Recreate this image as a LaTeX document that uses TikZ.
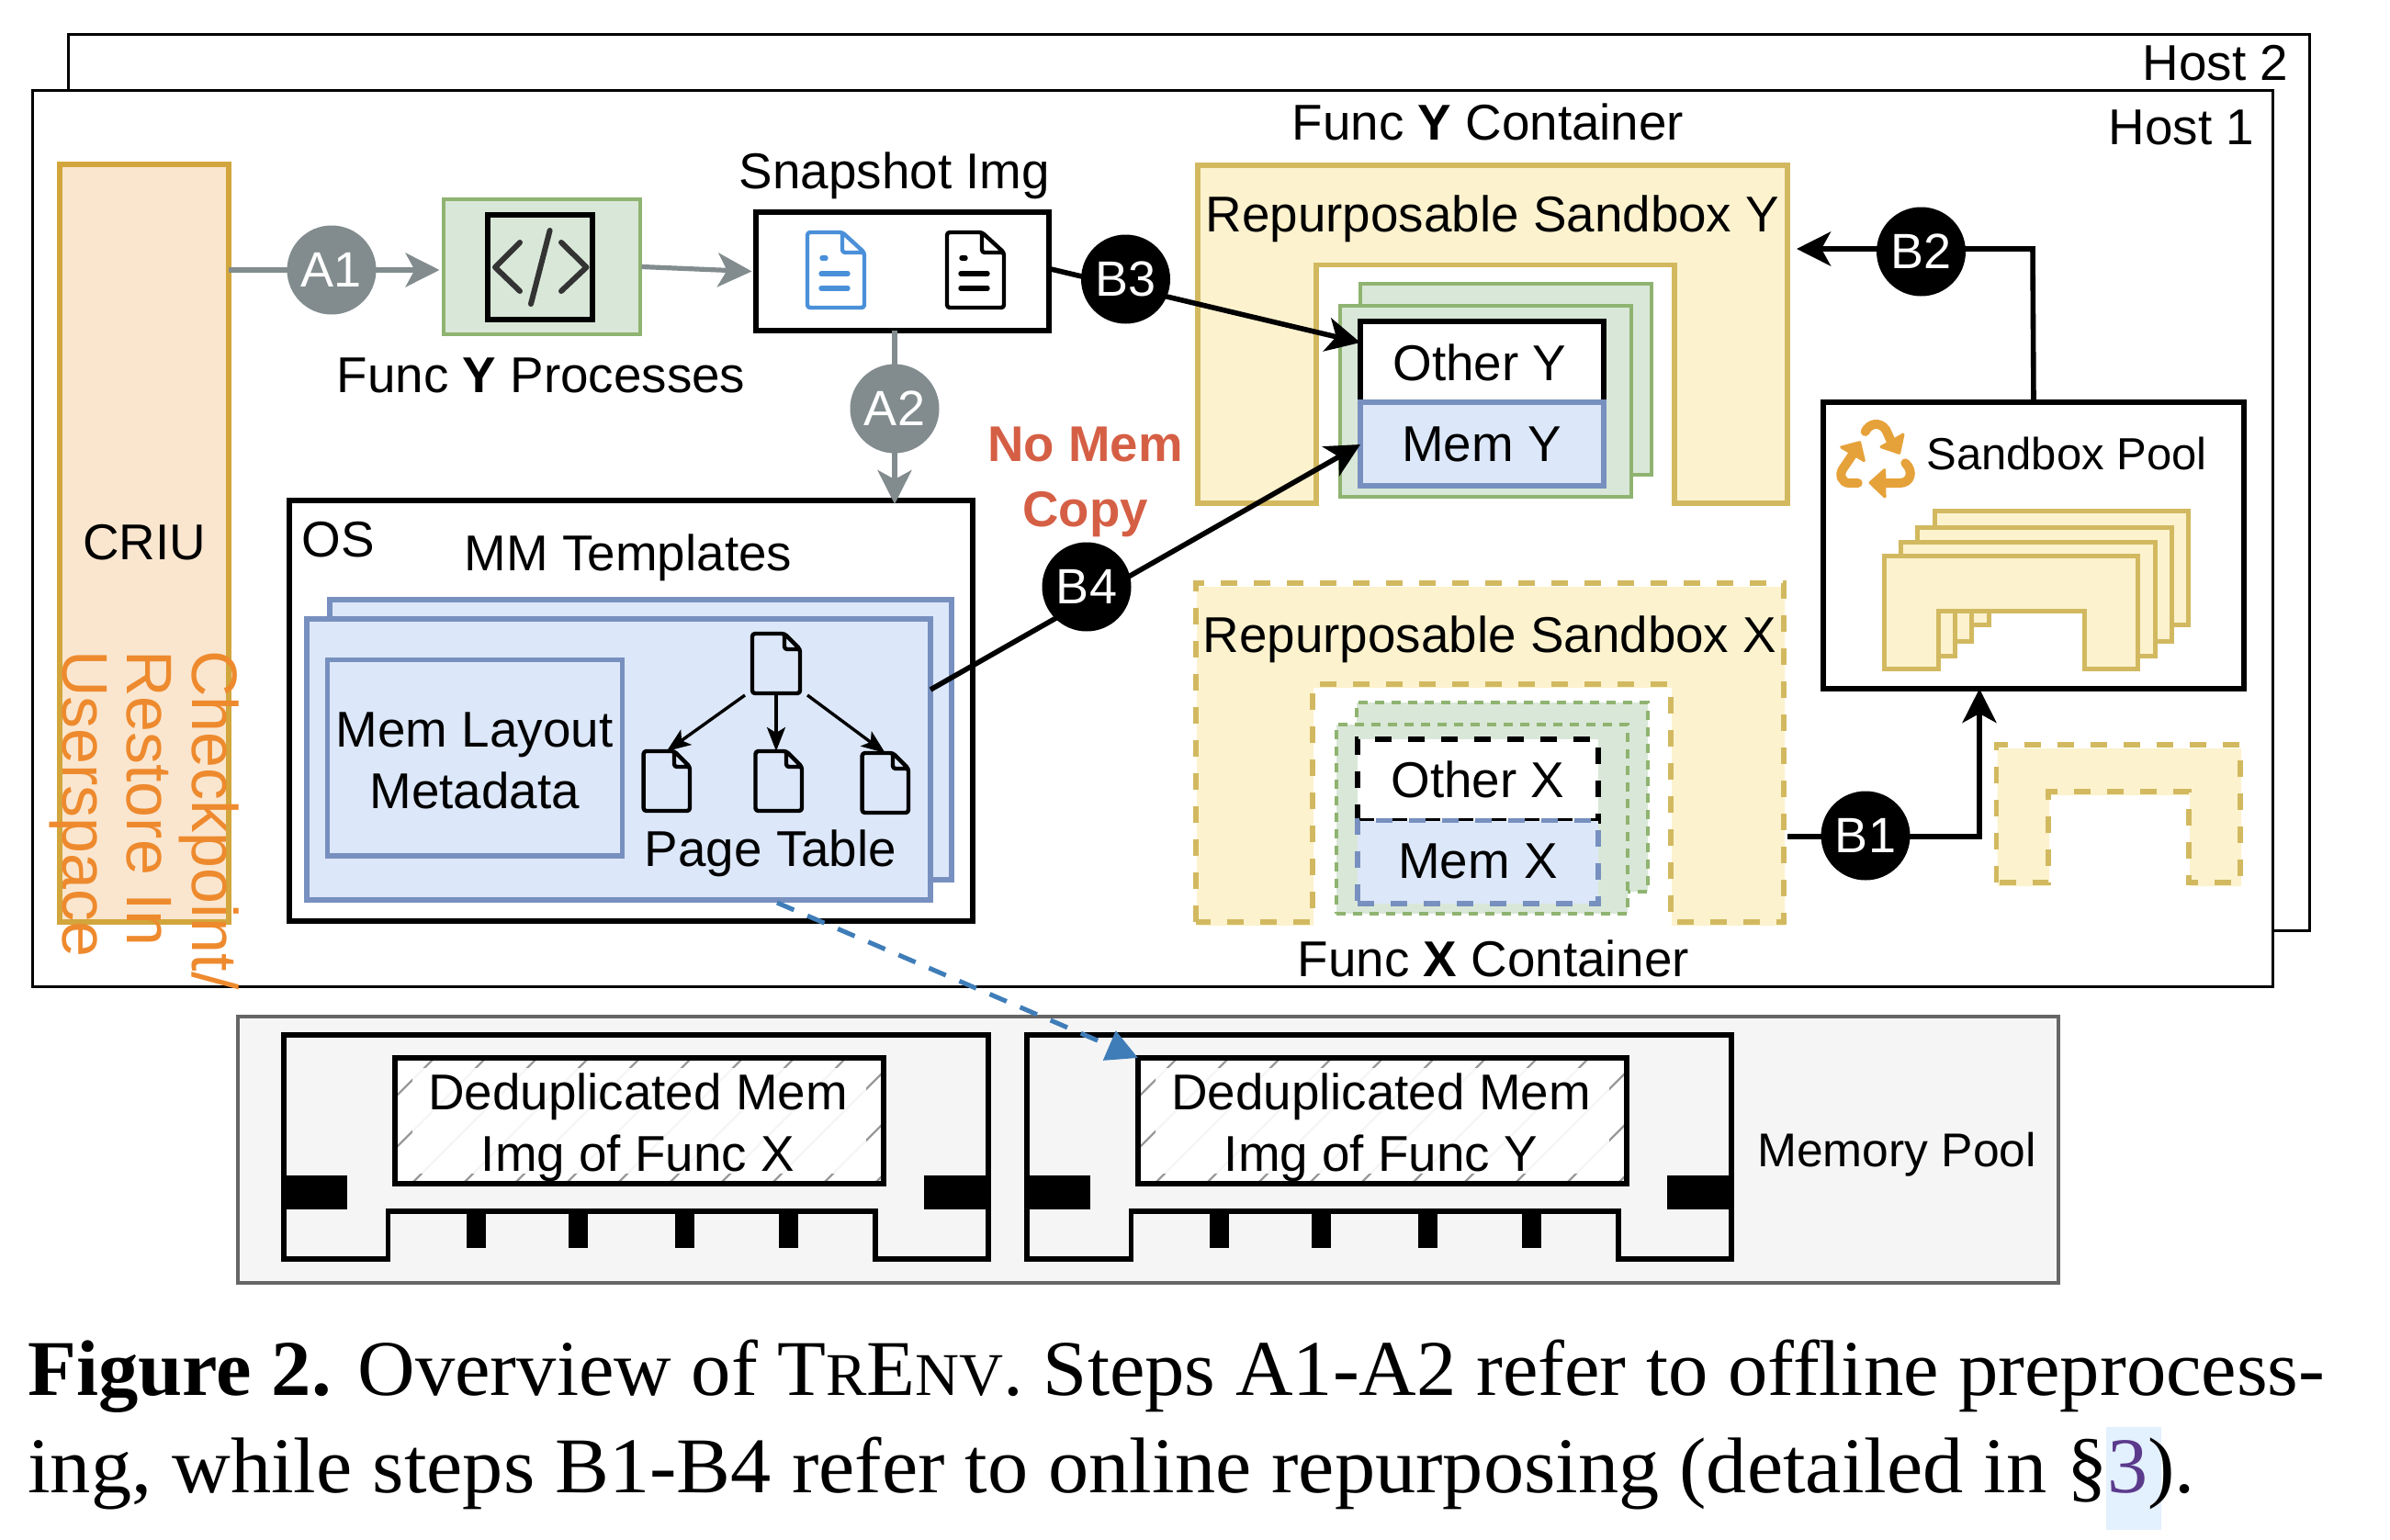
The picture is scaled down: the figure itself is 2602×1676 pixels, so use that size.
\documentclass[tikz,border=0pt]{standalone}
\usepackage{fontspec}
\usepackage{graphicx}
\setmainfont{Liberation Sans}
\newfontfamily\capfont{Liberation Serif}
\usetikzlibrary{arrows.meta,calc}
\definecolor{ygfill}{HTML}{FCF2CE}
\definecolor{ygline}{HTML}{D2B960}
\definecolor{grfill}{HTML}{D9E7D8}
\definecolor{grline}{HTML}{8FB370}
\definecolor{blfill}{HTML}{DCE7F9}
\definecolor{blline}{HTML}{7790BF}
\definecolor{crfill}{HTML}{FAE6CF}
\definecolor{crline}{HTML}{D2A63C}
\definecolor{graybadge}{HTML}{828C8E}
\definecolor{orangetxt}{HTML}{EE8A2E}
\definecolor{recyc}{HTML}{E6A23A}
\definecolor{redtxt}{HTML}{D55F45}
\definecolor{docblue}{HTML}{4A90D9}
\definecolor{dashblue}{HTML}{3F7DB8}
\definecolor{poolfill}{HTML}{F5F5F5}
\definecolor{citebg}{HTML}{E3F0FD}
\definecolor{citetxt}{HTML}{5B3A8C}
\tikzset{
  rbase/.style={inner sep=0pt,outer sep=0pt},
  blk/.style={draw=black,line width=3pt},
  thinblk/.style={draw=black,line width=1.5pt},
  ysolid/.style={draw=ygline,fill=ygfill,line width=2.9pt},
  yfillonly/.style={fill=ygfill,xshift=0.5pt,yshift=-2pt},
  ydash/.style={draw=ygline,line width=2.75pt,dash pattern=on 9pt off 9pt},
  gsolid/.style={draw=grline,fill=grfill,line width=2pt},
  gdash/.style={draw=grline,fill=grfill,line width=1.6pt,dash pattern=on 5pt off 4pt},
  bsolid/.style={draw=blline,fill=blfill,line width=2.8pt},
  txt/.style={anchor=base,inner sep=0pt,outer sep=0pt,font=\fontsize{27.4pt}{32pt}\selectfont},
  smalltxt/.style={txt,font=\fontsize{24.5pt}{30pt}\selectfont},
  badge/.style={circle,minimum size=48.5pt,inner sep=0pt,text=white,font=\fontsize{27pt}{32pt}\selectfont},
  gbadge/.style={badge,fill=graybadge},
  kbadge/.style={badge,fill=black},
  gconn/.style={draw=graybadge,line width=2.6pt,-{Stealth[length=18.5pt,width=18.5pt,inset=5pt]}},
  kconn/.style={draw=black,line width=2.8pt,-{Stealth[length=18.5pt,width=18.5pt,inset=5pt]}},
  sconn/.style={draw=black,line width=1.7pt,-{Stealth[length=13pt,width=10pt,inset=3pt]}},
  iconline/.style={line width=3pt,line cap=round},
  pillline/.style={line width=2.7pt,line cap=round},
  docline/.style={line width=2.2pt,rounded corners=1.5pt,line join=round},
  recband/.style={draw=recyc,line width=5pt,line cap=round},
  rechead/.style={draw=recyc,fill=recyc,line width=1.5pt,line join=round},
}
\newcommand{\rbox}[6][]{\node[rbase,#1,minimum width={(#5-#3)*0.5pt},minimum height={(#6-#4)*0.5pt}] (#2) at ({(#3+#5)/2},{(#4+#6)/2}) {};}
% [style]{x1}{top}{x2}{bottom}{innerleft}{innertop}{innerright}
\newcommand{\ushape}[8][]{\path[#1] (#2,#5)--(#2,#3)--(#4,#3)--(#4,#5)--(#8,#5)--(#8,#7)--(#6,#7)--(#6,#5)--cycle;}
\newcommand{\ushapedash}[7]{\ushape[yfillonly]{#1}{#2}{#3}{#4}{#5}{#6}{#7}\ushape[ydash]{#1}{#2}{#3}{#4}{#5}{#6}{#7}}
% {x1}{y1}{x2}{y2}{fx}{fy}{color}
\newcommand{\docshape}[7]{\draw[docline,draw=#7] (#1,#2)--({#3-#5},#2)--(#3,{#2+#6})--(#3,#4)--(#1,#4)--cycle ({#3-#5},#2)--({#3-#5},{#2+#6})--(#3,{#2+#6});}
% {x1}{color}
\newcommand{\bigdoc}[2]{%
  \docshape{#1}{253}{\the\numexpr#1+62\relax}{335}{24}{22}{#2}
  \draw[pillline,#2] ({#1+16},281)--({#1+20},281);
  \draw[pillline,#2] ({#1+15},298)--({#1+44},298);
  \draw[pillline,#2] ({#1+15},314)--({#1+44},314);
}
% module: {xshift}{func letter}{suffix}
\newcommand{\module}[3]{%
  \begin{scope}[xshift=#1*0.5pt]
  \draw[line width=2.8pt,draw=black,line join=miter] (309,1127)--(1076,1127)--(1076,1371)--(953,1371)--(953,1319)--(422.5,1319)--(422.5,1371)--(309,1371)--cycle;
  \fill[black] (309,1280) rectangle (378,1317);
  \fill[black] (1006,1280) rectangle (1076,1317);
  \foreach \tx in {518,629,745,858}{\fill[black] ({\tx-10.5},1319) rectangle ({\tx+10.5},1359);}
  \fill[white] (430,1152) rectangle (962,1289);
  \begin{scope}
    \clip (430,1152) rectangle (962,1289);
    \foreach \hx in {280,336,...,1000}{\draw[draw=black!40,line width=1.2pt] (\hx,1289)--({\hx+137},1152);}
    \fill[white,opacity=.9] (449,1163) rectangle (943,1278);
  \end{scope}
  \rbox[blk,fill=none]{memimg#3}{430}{1152}{962}{1289}
  \node[txt] (dedup#3) at (694.5,1208) {Deduplicated Mem};
  \node[txt] (imgof#3) at (694.5,1275) {Img of Func #2};
  \end{scope}
}
\begin{document}
\begin{tikzpicture}[x=0.5pt,y=-0.5pt]
\useasboundingbox (0,0) rectangle (2602,1676);
% hosts
\rbox[thinblk,fill=white]{hosttwo}{74.5}{37.5}{2514}{1013}
\rbox[thinblk,fill=white]{hostone}{35}{98.5}{2474}{1074}
\node[txt] (thosttwo) at (2412,87.5) {Host 2};
\node[txt] (thostone) at (2375,157) {Host 1};
% CRIU
\rbox[draw=crline,fill=crfill,line width=2.6pt]{criu}{65}{179}{249}{1004}
\node[txt] (tcriu) at (157,609) {CRIU};
% processes
\rbox[gsolid]{proc}{482.5}{217}{696.5}{364}
\rbox[draw=black,line width=3.2pt]{code}{531}{234}{645}{348}
\draw[iconline,color=black!80,line join=round] (566,264)--(539,291)--(566,317);
\draw[iconline,color=black!80] (598.6,251)--(578,331);
\draw[iconline,color=black!80,line join=round] (611,264)--(638.5,291)--(611,317);
\node[txt] (tproc) at (589,427) {Func {\bfseries Y} Processes};
% snapshot
\rbox[blk,fill=white]{snap}{822.5}{231}{1142}{360}
\bigdoc{879}{docblue}
\bigdoc{1031}{black}
\node[txt] (tsnap) at (974,205) {Snapshot Img};
% OS
\rbox[blk,fill=white]{os}{315}{545}{1059}{1002.5}
\node[txt] (tos) at (368,606) {OS};
\node[txt] (tmm) at (684,621) {MM Templates};
\rbox[bsolid]{mmback}{359}{653}{1036}{958}
\rbox[bsolid]{mmfront}{334}{674}{1013}{980}
\rbox[bsolid]{layout}{356.5}{718.6}{677.5}{932}
\node[txt] (tlayouta) at (516.6,813) {Mem Layout};
\node[txt] (tlayoutb) at (516.6,880) {Metadata};
\rbox{dzero}{819}{690}{871}{755}
\rbox{done}{700.6}{818}{751}{883}
\rbox{dtwo}{822.5}{818}{873}{883}
\rbox{dthree}{938.6}{820}{989}{885}
\docshape{819}{690}{871}{755}{17}{17}{black}
\docshape{700.6}{818}{751}{883}{17}{17}{black}
\docshape{822.5}{818}{873}{883}{17}{17}{black}
\docshape{938.6}{820}{989}{885}{17}{17}{black}
\draw[sconn] ([shift={(-6,2)}]dzero.south) ++(-28,0) -- (done.north);
\draw[sconn] ([yshift=-1pt]dzero.south) -- (dzero.south |- dtwo.north);
\draw[sconn] ([shift={(8,2)}]dzero.south east) -- (dthree.north);
\node[txt] (tpage) at (839,943) {Page Table};
% No Mem Copy
\node[txt,text=redtxt,font=\fontsize{27.3pt}{32pt}\selectfont\bfseries] (tnomem) at (1181.5,502) {No Mem};
\node[txt,text=redtxt,font=\fontsize{27.3pt}{32pt}\selectfont\bfseries] (tcopy) at (1181.5,573) {Copy};
% Sandbox Y
\node[txt] (tfy) at (1620,152) {Func {\bfseries Y} Container};
\ushape[ysolid]{1304}{180}{1946}{548}{1433}{288.5}{1823}
\node[txt] (trsy) at (1625,252) {Repurposable Sandbox Y};
\rbox[gsolid]{gyback}{1481}{309}{1798}{517}
\rbox[gsolid]{gyfront}{1459}{333}{1776}{541}
\rbox[blk,fill=white]{othery}{1481}{350}{1746}{438}
\rbox[bsolid,line width=3pt]{memy}{1481}{438}{1746}{529}
\node[txt] (tothery) at (1611,414) {Other Y};
\node[txt] (tmemy) at (1613,502) {Mem Y};
% Sandbox X
\node[txt] (tfx) at (1626,1063) {Func {\bfseries X} Container};
\ushapedash{1302}{635}{1942}{1004}{1429}{745}{1819}
\node[txt] (trsx) at (1622,710) {Repurposable Sandbox X};
\rbox[gdash]{gxback}{1477}{765}{1794}{971}
\rbox[gdash]{gxfront}{1455}{789}{1772}{995}
\rbox[blk,fill=white,dash pattern=on 9pt off 9pt]{otherx}{1478}{805}{1740}{893.6}
\rbox[bsolid,dash pattern=on 9pt off 9pt]{memx}{1478}{893.6}{1740}{984}
\node[txt] (totherx) at (1609,868) {Other X};
\node[txt] (tmemx) at (1609,956) {Mem X};
% Sandbox pool
\rbox[blk,fill=white]{pool}{1985}{438}{2443}{750}
\begin{scope}[shift={(1990,445)},x=0.16667pt,y=-0.16667pt]
  \draw[recband] (122,75) .. controls (135,48) and (170,40) .. (190,70) -- (207,108);
  \path[rechead] (246,84)--(233,145)--(174,125)--cycle;
  \draw[recband] (98,243)--(70,243) .. controls (45,243) and (35,215) .. (50,195) -- (82,148);
  \path[rechead] (44,126)--(104,110)--(118,170)--cycle;
  \draw[recband] (183,243)--(235,243) .. controls (270,243) and (282,205) .. (253,178);
  \path[rechead] (138,242)--(185,200)--(186,288)--cycle;
\end{scope}
\node[smalltxt] (tpool) at (2250,511) {Sandbox Pool};
\ushape[ysolid,line width=2.5pt]{2106.5}{556}{2382}{680}{2165}{616}{2324}
\ushape[ysolid,line width=2.5pt]{2087.5}{574.5}{2364}{698}{2146}{634.5}{2305}
\ushape[ysolid,line width=2.5pt]{2069.5}{590}{2346}{714}{2128}{650}{2287}
\ushape[ysolid,line width=2.5pt]{2051.5}{605}{2327}{728.6}{2110}{665}{2269}
\ushapedash{2173.5}{811}{2439}{961}{2230}{862}{2383}
% memory pool
\rbox[draw=black!60,fill=poolfill,line width=1.6pt]{mempool}{259}{1107}{2241}{1397}
\module{0}{X}{x}
\module{809}{Y}{y}
\node[smalltxt,font=\fontsize{25.8pt}{30pt}\selectfont] (tmempool) at (2065,1270) {Memory Pool};
% connector end points
\coordinate (aonec) at (361,294);
\coordinate (atwoc) at (974,445);
\coordinate (tipthree) at (1481,373);
\coordinate (srcthree) at (1144,293);
\coordinate (tipfour) at (1481,484);
\coordinate (srcfour) at (1013,751);
\coordinate (srcone) at (1946,911);
\coordinate (bend) at (2155,911);
\coordinate (tiptwo) at (1956,271);
\coordinate (benda) at (2213,271);
\coordinate (dashsrc) at (846,983);
% connectors
\draw[gconn] (criu.east |- aonec) -- ([xshift=-2pt]proc.west |- aonec);
\draw[gconn] ([xshift=1pt]proc.east) -- ([xshift=-2pt]snap.west);
\draw[gconn] (snap.south -| atwoc) -- ([yshift=-2pt]os.north -| atwoc);
\draw[kconn] (srcthree) -- (tipthree);
\draw[kconn] (srcfour) -- (tipfour);
\draw[kconn] (pool.north) -- (benda) -- (tiptwo);
\draw[kconn] (srcone) -- (bend) -- (bend |- pool.south);
\draw[draw=dashblue,line width=2.5pt,dash pattern=on 10pt off 8pt,-{Stealth[length=17pt,width=17pt,inset=0pt]}] (dashsrc) -- (memimgy.north west);
% badges
\node[gbadge] (aone) at (aonec) {A1};
\node[gbadge] (atwo) at (atwoc) {A2};
\node[kbadge] (bone) at (2031,910) {B1};
\node[kbadge] (btwo) at (2091.5,274) {B2};
\node[kbadge] (bthree) at (1225.5,304) {B3};
\node[kbadge] (bfour) at (1183,639) {B4};
% vertical label
\node[rbase,rotate=-90,anchor=north west,align=left,text=orangetxt,font=\fontsize{35pt}{35.25pt}\selectfont] (tcheck) at (260,708) {Checkpoint/\\Restore In\\Userspace};
% caption
\rbox[fill=citebg]{citebox}{2293}{1554}{2353}{1666}
\node[anchor=base west,inner sep=0pt,font=\capfont\fontsize{43pt}{50pt}\selectfont] (capa) at (30,1519) {\scalebox{1.007}[1]{{\bfseries Figure 2.} Overview of T{\fontsize{33pt}{50pt}\selectfont R}E{\fontsize{33pt}{50pt}\selectfont NV}. Steps A1-A2 refer to offline preprocess-}};
\node[anchor=base west,inner sep=0pt,font=\capfont\fontsize{43pt}{50pt}\selectfont] (capb) at (30,1625) {\scalebox{1.027}[1]{ing, while steps B1-B4 refer to online repurposing (detailed in §{\color{citetxt}3}).}};
\end{tikzpicture}
\end{document}
